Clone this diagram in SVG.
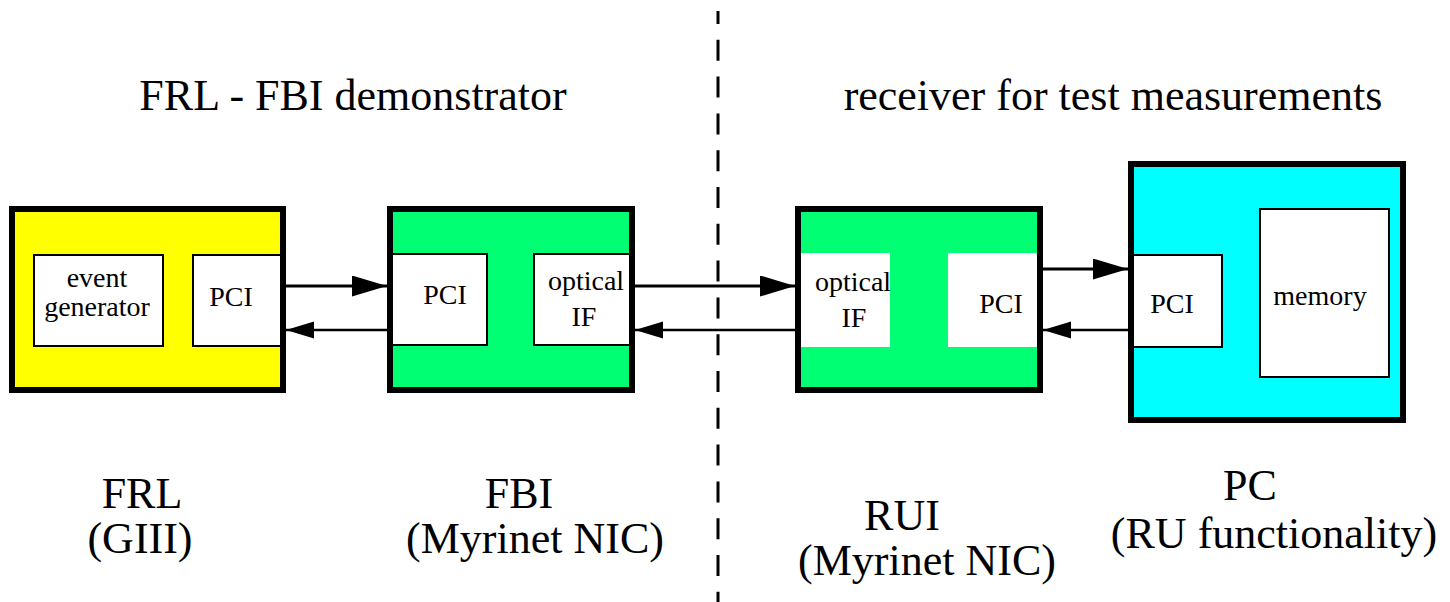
<svg xmlns="http://www.w3.org/2000/svg" width="1450" height="602" viewBox="0 0 1450 602">
  <style>
    text { font-family: "Liberation Serif", "DejaVu Serif", "Times New Roman", Times, serif; fill: #000; text-anchor: middle; }
    .big { font-size: 44px; }
    .small { font-size: 28px; }
    .frame { fill: none; stroke: #000; stroke-width: 6; }
    .part { fill: #fff; stroke: #000; stroke-width: 2; }
    .bare { fill: #fff; stroke: none; }
    .fwd { stroke: #000; stroke-width: 3; fill: none; marker-end: url(#headBig); }
    .back { stroke: #000; stroke-width: 2.5; fill: none; marker-end: url(#headSmall); }
  </style>
  <defs>
    <marker id="headBig" markerUnits="userSpaceOnUse" markerWidth="36" markerHeight="22" refX="35" refY="10.5" orient="auto">
      <path d="M0,0 L35,10.5 L0,21 z" fill="#000"/>
    </marker>
    <marker id="headSmall" markerUnits="userSpaceOnUse" markerWidth="29" markerHeight="18" refX="28" refY="8.5" orient="auto">
      <path d="M0,0 L28,8.5 L0,17 z" fill="#000"/>
    </marker>
  </defs>

  <rect width="1450" height="602" fill="#fff"/>

  <!-- section titles -->
  <text class="big" x="353" y="110">FRL - FBI demonstrator</text>
  <text class="big" x="1113" y="110">receiver for test measurements</text>

  <!-- boundary between sender and receiver side -->
  <line x1="718" y1="11" x2="718" y2="602" stroke="#000" stroke-width="3" stroke-dasharray="21 15.8" stroke-dashoffset="8"/>

  <!-- FRL board -->
  <g id="frl">
    <rect x="12" y="209" width="271" height="181" fill="#ffff00"/>
    <rect class="part" x="34" y="255" width="129" height="91"/>
    <rect class="part" x="193" y="255" width="90" height="91"/>
    <rect class="frame" x="12" y="209" width="271" height="181"/>
    <text class="small" x="97" y="287">event</text>
    <text class="small" x="97" y="316">generator</text>
    <text class="small" x="231" y="306">PCI</text>
    <text class="big" x="142" y="508">FRL</text>
    <text class="big" x="140" y="553">(GIII)</text>
  </g>

  <!-- FBI board -->
  <g id="fbi">
    <rect x="390" y="209" width="242" height="181" fill="#00ff73"/>
    <rect class="part" x="390" y="254" width="97" height="91"/>
    <rect class="part" x="534" y="254" width="98" height="91"/>
    <rect class="frame" x="390" y="209" width="242" height="181"/>
    <text class="small" x="445" y="304">PCI</text>
    <text class="small" x="586" y="290">optical</text>
    <text class="small" x="584" y="326">IF</text>
    <text class="big" x="519" y="508">FBI</text>
    <text class="big" x="535" y="553">(Myrinet NIC)</text>
  </g>

  <!-- RUI board -->
  <g id="rui">
    <rect x="798" y="209" width="242" height="181" fill="#00ff73"/>
    <rect class="bare" x="801" y="253" width="89" height="94"/>
    <rect class="bare" x="948" y="253" width="89" height="94"/>
    <rect class="frame" x="798" y="209" width="242" height="181"/>
    <text class="small" x="853" y="291">optical</text>
    <text class="small" x="854" y="327">IF</text>
    <text class="small" x="1001" y="313">PCI</text>
    <text class="big" x="902" y="530">RUI</text>
    <text class="big" x="927" y="575">(Myrinet NIC)</text>
  </g>

  <!-- PC host -->
  <g id="pc">
    <rect x="1131" y="164" width="272" height="256" fill="#00ffff"/>
    <rect class="part" x="1131" y="255" width="91" height="92"/>
    <rect class="part" x="1260" y="209" width="129" height="168"/>
    <rect class="frame" x="1131" y="164" width="272" height="256"/>
    <text class="small" x="1172" y="313">PCI</text>
    <text class="small" x="1320" y="305">memory</text>
    <text class="big" x="1250" y="500">PC</text>
    <text class="big" x="1274" y="548">(RU functionality)</text>
  </g>

  <!-- data links -->
  <g id="links">
    <line class="fwd" x1="286" y1="286" x2="387" y2="286"/>
    <line class="back" x1="387" y1="330" x2="286" y2="330"/>
    <line class="fwd" x1="635" y1="286" x2="795" y2="286"/>
    <line class="back" x1="795" y1="330" x2="635" y2="330"/>
    <line class="fwd" x1="1043" y1="269" x2="1128" y2="269"/>
    <line class="back" x1="1128" y1="330" x2="1043" y2="330"/>
  </g>
</svg>
